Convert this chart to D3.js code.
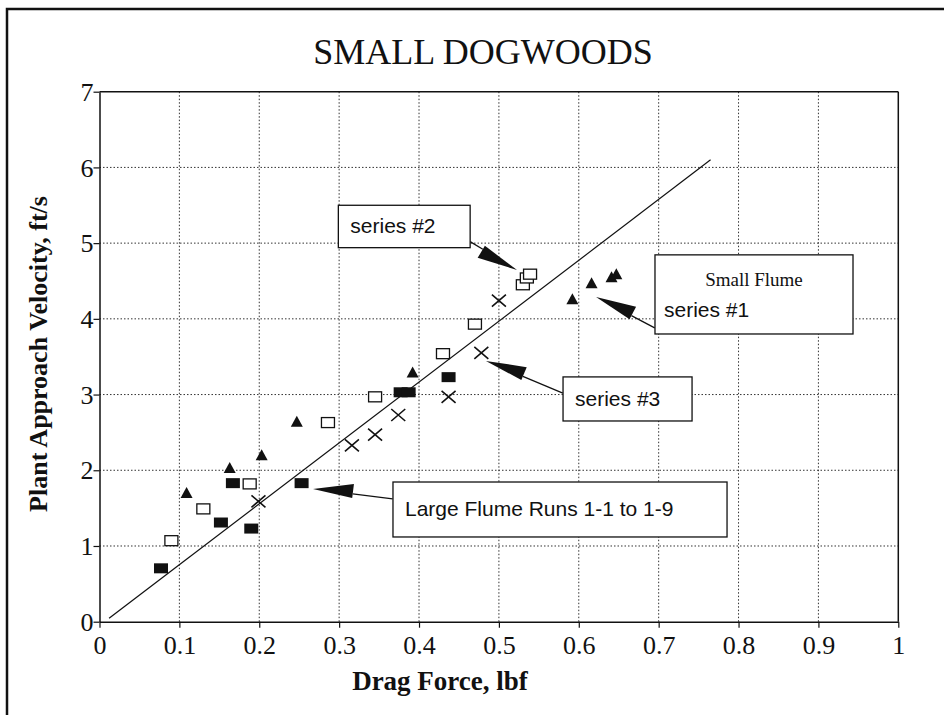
<!DOCTYPE html>
<html>
<head>
<meta charset="utf-8">
<script src="https://cdn.jsdelivr.net/npm/d3@7"></script>
<style>
  body { margin: 0; background: #fff; }
  svg { display: block; }
  .serif { font-family: "Liberation Serif", "Times New Roman", serif; }
  .sans { font-family: "Liberation Sans", Arial, sans-serif; }
</style>
</head>
<body>
<svg id="chart" width="944" height="715"></svg>
<script>
// Values
const xTicks = [0, 0.1, 0.2, 0.3, 0.4, 0.5, 0.6, 0.7, 0.8, 0.9, 1];
const yTicks = [0, 1, 2, 3, 4, 5, 6, 7];

// series #1 (small flume) - filled triangles
const series1 = [
  [0.109, 1.70], [0.163, 2.03], [0.203, 2.20], [0.247, 2.64], [0.392, 3.29],
  [0.592, 4.26], [0.616, 4.47], [0.641, 4.55], [0.647, 4.59]
];
// series #2 - open squares
const series2 = [
  [0.090, 1.07], [0.130, 1.49], [0.188, 1.82], [0.286, 2.63], [0.345, 2.97],
  [0.430, 3.54], [0.470, 3.93], [0.530, 4.45], [0.535, 4.54], [0.539, 4.59]
];
// series #3 - crosses
const series3 = [
  [0.199, 1.59], [0.316, 2.33], [0.345, 2.47], [0.374, 2.73], [0.437, 2.97],
  [0.478, 3.55], [0.500, 4.24]
];
// large flume runs 1-1 to 1-9 - filled squares
const largeFlume = [
  [0.077, 0.705], [0.152, 1.31], [0.167, 1.83], [0.190, 1.23], [0.253, 1.83],
  [0.377, 3.03], [0.387, 3.03], [0.437, 3.23]
];
// fitted line end points
const fitLine = [[0.012, 0.045], [0.765, 6.1]];

// callout boxes (data units) and their arrows
const callouts = [
  { lines: ['series #2'], box: [0.299, 0.464, 5.50, 4.94], tail: [0.464, 5.02], tip: [0.5227, 4.645] },
  { lines: ['series #3'], box: [0.5803, 0.7418, 3.233, 2.651], tail: [0.580, 3.02], tip: [0.4838, 3.444] },
  { lines: ['Large Flume Runs 1-1 to 1-9'], box: [0.3674, 0.7856, 1.845, 1.119], tail: [0.367, 1.621], tip: [0.2673, 1.753] },
  { lines: ['Small Flume', 'series #1'], box: [0.6954, 0.9433, 4.845, 3.80], tail: [0.695, 3.88], tip: [0.6216, 4.288] }
];

const svg = d3.select('#chart');
const margin = { top: 91.7, left: 99.5, right: 45.7, bottom: 93.3 };
const W = 944, H = 715;

const x = d3.scaleLinear().domain([0, 1]).range([margin.left, W - margin.right]);
const y = d3.scaleLinear().domain([0, 7]).range([H - margin.bottom, margin.top]);

// outer frame
svg.append('rect')
  .attr('x', 7).attr('y', 9)
  .attr('width', 960).attr('height', 760)
  .attr('fill', 'none').attr('stroke', '#111').attr('stroke-width', 2.5);

// title
svg.append('text')
  .attr('class', 'serif')
  .attr('x', 483).attr('y', 64)
  .attr('text-anchor', 'middle')
  .attr('font-size', 36)
  .attr('fill', '#111')
  .text('SMALL DOGWOODS');

// grid
const grid = svg.append('g').attr('stroke', '#333').attr('stroke-width', 1).attr('stroke-dasharray', '1.5,2');
grid.selectAll('line.vx').data(xTicks.slice(1, -1)).join('line')
  .attr('class', 'vx')
  .attr('x1', d => x(d)).attr('x2', d => x(d))
  .attr('y1', y(0)).attr('y2', y(7));
grid.selectAll('line.hy').data(yTicks.slice(1, -1)).join('line')
  .attr('class', 'hy')
  .attr('x1', x(0)).attr('x2', x(1))
  .attr('y1', d => y(d)).attr('y2', d => y(d));

// axes
const xAxis = svg.append('g')
  .attr('transform', `translate(0,${y(0)})`)
  .call(d3.axisBottom(x).tickValues(xTicks).tickSize(6).tickSizeOuter(0)
    .tickFormat(d => String(+d.toFixed(1))));
const yAxis = svg.append('g')
  .attr('transform', `translate(${x(0)},0)`)
  .call(d3.axisLeft(y).tickValues(yTicks).tickSize(6).tickSizeOuter(0)
    .tickFormat(d3.format('d')));

[xAxis, yAxis].forEach(g => {
  g.select('.domain').attr('stroke', '#111').attr('stroke-width', 1.5);
  g.selectAll('.tick line').attr('stroke', '#111').attr('stroke-width', 1.2);
  g.selectAll('.tick text')
    .attr('class', 'serif')
    .attr('font-size', 26)
    .attr('fill', '#111');
});
xAxis.selectAll('.tick text').attr('dy', '0.9em');
yAxis.selectAll('.tick text').attr('x', -6).attr('dy', '0.33em');

// top and right frame of plot
svg.append('line').attr('x1', x(0)).attr('x2', x(1)).attr('y1', y(7)).attr('y2', y(7))
  .attr('stroke', '#111').attr('stroke-width', 1.5);
svg.append('line').attr('x1', x(1)).attr('x2', x(1)).attr('y1', y(7)).attr('y2', y(0))
  .attr('stroke', '#111').attr('stroke-width', 1.5);

// axis titles
svg.append('text')
  .attr('class', 'serif')
  .attr('x', 440).attr('y', 690)
  .attr('text-anchor', 'middle')
  .attr('font-size', 27).attr('font-weight', 'bold')
  .attr('fill', '#111')
  .text('Drag Force, lbf');

svg.append('text')
  .attr('class', 'serif')
  .attr('transform', `translate(47,${354}) rotate(-90)`)
  .attr('text-anchor', 'middle')
  .attr('font-size', 26).attr('font-weight', 'bold')
  .attr('fill', '#111')
  .text('Plant Approach Velocity, ft/s');

// fitted line
svg.append('path')
  .datum(fitLine)
  .attr('fill', 'none').attr('stroke', '#111').attr('stroke-width', 1.2)
  .attr('d', d3.line().x(d => x(d[0])).y(d => y(d[1])));

// markers
const marks = svg.append('g');

marks.selectAll('path.tri').data(series1).join('path')
  .attr('class', 'tri')
  .attr('transform', d => `translate(${x(d[0])},${y(d[1])})`)
  .attr('d', 'M0,-6L6,5L-6,5Z')
  .attr('fill', '#111');

marks.selectAll('rect.open').data(series2).join('rect')
  .attr('class', 'open')
  .attr('x', d => x(d[0]) - 6.5).attr('y', d => y(d[1]) - 5)
  .attr('width', 13).attr('height', 10)
  .attr('fill', '#fff').attr('stroke', '#111').attr('stroke-width', 1.3);

marks.selectAll('path.cross').data(series3).join('path')
  .attr('class', 'cross')
  .attr('transform', d => `translate(${x(d[0])},${y(d[1])})`)
  .attr('d', 'M-7,-6L7,6M-7,6L7,-6')
  .attr('fill', 'none').attr('stroke', '#111').attr('stroke-width', 1.6);

marks.selectAll('rect.filled').data(largeFlume).join('rect')
  .attr('class', 'filled')
  .attr('x', d => x(d[0]) - 7).attr('y', d => y(d[1]) - 5)
  .attr('width', 14).attr('height', 10)
  .attr('fill', '#111');

// callouts
const ann = svg.append('g');
callouts.forEach(c => {
  const [bx0, bx1, by0, by1] = c.box;
  const g = ann.append('g');
  // arrow: shaft + filled head
  const tx = x(c.tail[0]), ty = y(c.tail[1]);
  const px = x(c.tip[0]), py = y(c.tip[1]);
  const ang = Math.atan2(py - ty, px - tx);
  const len = 40, half = 10;
  const bxp = px - len * Math.cos(ang), byp = py - len * Math.sin(ang);
  g.append('line')
    .attr('x1', tx).attr('y1', ty).attr('x2', bxp).attr('y2', byp)
    .attr('stroke', '#111').attr('stroke-width', 1.3);
  g.append('path')
    .attr('d', `M${px},${py}L${bxp - half * Math.sin(ang)},${byp + half * Math.cos(ang)}L${bxp + 0.4 * half * Math.sin(ang)},${byp - 0.4 * half * Math.cos(ang)}Z`)
    .attr('fill', '#111');

  g.append('rect')
    .attr('x', x(bx0)).attr('y', y(by0))
    .attr('width', x(bx1) - x(bx0)).attr('height', y(by1) - y(by0))
    .attr('fill', '#fff').attr('stroke', '#111').attr('stroke-width', 1.3);

  if (c.lines.length === 1) {
    g.append('text')
      .attr('class', 'sans')
      .attr('x', x(bx0) + 12)
      .attr('y', (y(by0) + y(by1)) / 2 + 7)
      .attr('font-size', 21).attr('fill', '#111')
      .text(c.lines[0]);
  } else {
    g.append('text')
      .attr('class', 'serif')
      .attr('x', (x(bx0) + x(bx1)) / 2)
      .attr('y', y(by0) + 31)
      .attr('text-anchor', 'middle')
      .attr('font-size', 19).attr('fill', '#111')
      .text(c.lines[0]);
    g.append('text')
      .attr('class', 'sans')
      .attr('x', x(bx0) + 9)
      .attr('y', y(by0) + 62)
      .attr('font-size', 21).attr('fill', '#111')
      .text(c.lines[1]);
  }
});
</script>
</body>
</html>
